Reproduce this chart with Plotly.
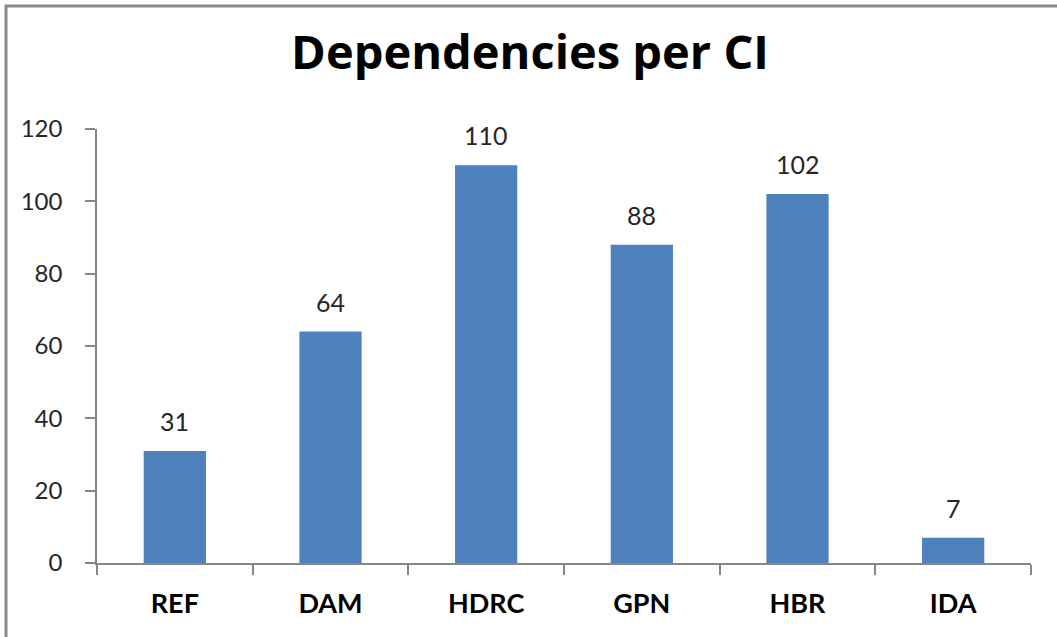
import plotly.graph_objects as go

categories = ["REF", "DAM", "HDRC", "GPN", "HBR", "IDA"]
dependencies = [31, 64, 110, 88, 102, 7]
y_ticks = [0, 20, 40, 60, 80, 100, 120]

W, H = 1057, 637
L, R, T, B = 97, 26, 129, 74
pw, ph = W - L - R, H - T - B

FONT = "Lato, Open Sans, sans-serif"

fig = go.Figure(
    go.Bar(
        x=categories,
        y=dependencies,
        marker=dict(color="#4F81BD", line=dict(width=0)),
        width=0.4,
    )
)

# value labels above each bar
for cat, val in zip(categories, dependencies):
    fig.add_annotation(
        x=cat,
        y=val,
        text=str(val),
        showarrow=False,
        yanchor="bottom",
        yshift=13,
        font=dict(family=FONT, size=25, color="#262626"),
    )

axis_color = "#868686"
fig.update_layout(
    width=W,
    height=H,
    margin=dict(l=L, r=R, t=T, b=B),
    paper_bgcolor="white",
    plot_bgcolor="white",
    showlegend=False,
    title=dict(
        text="<b>Dependencies per CI</b>",
        x=530 / W,
        xref="container",
        xanchor="center",
        y=1 - 53 / H,
        yanchor="middle",
        font=dict(family="Open Sans, Lato, sans-serif", size=47, color="black"),
    ),
    xaxis=dict(
        showline=True,
        linecolor=axis_color,
        linewidth=1.5,
        ticks="outside",
        tickson="boundaries",
        ticklen=10,
        tickcolor=axis_color,
        tickwidth=1.5,
        tickfont=dict(family=FONT, size=27, color="black", weight="bold"),
        ticklabelstandoff=16,
        showgrid=False,
    ),
    yaxis=dict(
        range=[0, 120],
        tickvals=y_ticks,
        showline=True,
        linecolor=axis_color,
        linewidth=1.5,
        ticks="outside",
        ticklen=10,
        tickcolor=axis_color,
        tickwidth=1.5,
        tickfont=dict(family=FONT, size=24, color="#262626"),
        ticklabelstandoff=18,
        showgrid=False,
        zeroline=False,
    ),
)

# outer chart frame (runs off the right and bottom edges)
fig.add_shape(
    type="rect",
    xref="paper",
    yref="paper",
    x0=(6 - L) / pw,
    x1=(W + 10 - L) / pw,
    y0=-(H + 10 - T - ph) / ph,
    y1=1 + (T - 6) / ph,
    line=dict(color="#8A8A8A", width=3),
    fillcolor="rgba(0,0,0,0)",
    layer="above",
)

fig.write_html("out.html")
